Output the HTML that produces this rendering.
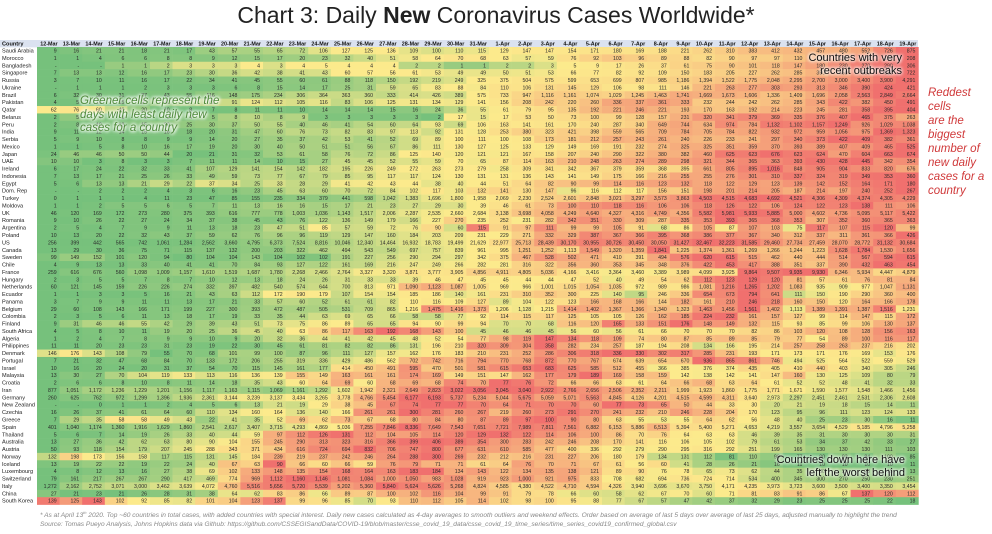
<!DOCTYPE html>
<html><head><meta charset="utf-8">
<style>
html,body{margin:0;padding:0;background:#fff;}
body{width:992px;height:534px;overflow:hidden;position:relative;font-family:"Liberation Sans",sans-serif;}
#title{position:absolute;left:0;top:2px;width:992px;text-align:center;font-size:23px;color:#222;}
.note{position:absolute;font-style:italic;}
svg{position:absolute;left:0;top:0;}
</style></head>
<body>
<div id="title">Chart 3: Daily <b>New</b> Coronavirus Cases Worldwide*</div>
<svg id="chart" width="992" height="534"></svg>
<div class="note" style="left:80px;top:95px;font-size:11.5px;line-height:13.5px;color:#4e8a3a;text-shadow:0 0 3px #fff,0 0 3px #fff,0 0 4px #fff,0 0 5px #fff;">Greener cells represent the<br>days with least daily new<br>cases for a country</div>
<div class="note" style="right:90px;top:52px;font-style:normal;font-size:11px;line-height:13px;color:#111;text-align:right;text-shadow:0 0 3px #fff,0 0 3px #fff,0 0 4px #fff;">Countries with very<br>recent outbreaks</div>
<div class="note" style="right:87px;top:454px;font-style:normal;font-size:11px;line-height:13px;color:#111;text-align:right;text-shadow:0 0 3px #fff,0 0 3px #fff,0 0 4px #fff;">Countries down here have<br>left the worst behind</div>
<div class="note" style="left:928px;top:86px;font-size:11.5px;line-height:14px;color:#d0393a;">Reddest cells<br>are the<br>biggest<br>number of<br>new daily<br>cases for a<br>country</div>
<div class="note" style="left:40px;top:508px;font-size:6.6px;line-height:9px;color:#888;white-space:nowrap;">* As at April 13<sup style="font-size:4px">th</sup> 2020. Top ~60 countries in total cases, with added countries with special interest. Daily new cases calculated as 4-day averages to smooth outliers and weekend effects. Order based on average of last 5 days over average of last 25 days, adjusted manually to highlight the trend<br>Source: Tomas Pueyo Analysis, Johns Hopkins data via Github: https://github.com/CSSEGISandData/COVID-19/blob/master/csse_covid_19_data/csse_covid_19_time_series/time_series_covid19_confirmed_global.csv</div>
<script>
const dates=["12-Mar","13-Mar","14-Mar","15-Mar","16-Mar","17-Mar","18-Mar","19-Mar","20-Mar","21-Mar","22-Mar","23-Mar","24-Mar","25-Mar","26-Mar","27-Mar","28-Mar","29-Mar","30-Mar","31-Mar","1-Apr","2-Apr","3-Apr","4-Apr","5-Apr","6-Apr","7-Apr","8-Apr","9-Apr","10-Apr","11-Apr","12-Apr","13-Apr","14-Apr","15-Apr","16-Apr","17-Apr","18-Apr","19-Apr"];
const countries=["Saudi Arabia","Morocco","Bangladesh","Singapore","Russia","Ukraine","Brazil","Pakistan","Qatar","Belarus","Peru","India","Serbia","Mexico","Japan","UAE","Ireland","Indonesia","Egypt","Dom. Rep","Turkey","Moldova","UK","Romania","Argentina","Poland","US","Canada","Sweden","Chile","France","Hungary","Netherlands","Ecuador","Panama","Belgium","Colombia","Finland","South Africa","Algeria","Philippines","Denmark","Portugal","Israel","Malaysia","Croatia","Iran","Germany","New Zealand","Czechia","Greece","Spain","Thailand","Australia","Austria","Norway","Iceland","Luxembourg","Switzerland","Italy","China","South Korea"];
const cases=[
[9,16,21,21,18,21,17,43,57,55,65,72,106,127,125,136,109,100,110,115,129,147,147,154,171,180,169,188,221,262,310,383,412,432,457,480,552,726,875],
[1,1,4,6,6,8,8,9,12,15,17,20,23,32,40,51,58,64,70,68,63,57,59,76,92,103,96,89,88,82,90,97,97,110,130,150,170,190,208],
[null,null,null,1,1,2,3,3,3,4,3,4,5,4,4,4,2,2,1,1,2,2,3,5,9,17,26,37,61,75,90,101,118,147,180,230,270,290,306],
[7,13,13,12,16,17,23,30,36,42,38,41,43,60,57,56,61,53,49,49,50,51,53,66,77,82,92,109,150,183,205,227,262,285,350,450,550,650,722],
[3,7,10,11,16,17,22,34,41,45,55,60,61,88,118,150,192,219,249,325,375,504,575,599,653,699,807,985,1186,1394,1522,1775,2048,2295,2700,3000,3400,3900,4291],
[null,1,1,1,2,3,3,3,6,8,15,14,17,25,31,59,65,83,88,84,110,106,131,145,129,106,98,111,146,221,263,277,303,293,313,346,390,424,421],
[6,32,30,31,37,43,55,116,148,175,234,306,364,363,360,333,414,426,389,575,733,947,1116,1161,1074,1029,1245,1463,1741,1669,1673,1606,1336,1409,1696,2058,2563,2849,2664],
[4,5,10,15,25,40,60,80,91,124,112,105,116,83,106,125,131,134,129,141,156,208,242,220,260,336,337,361,333,232,244,242,262,285,343,422,382,450,491],
[62,76,60,40,20,10,8,7,8,11,11,10,14,14,14,15,16,24,36,55,61,79,95,135,192,221,246,221,193,170,163,192,214,223,245,281,358,395,404],
[2,5,4,3,3,3,4,5,8,10,8,9,3,3,3,3,3,2,17,15,17,53,50,73,100,99,128,157,231,320,341,379,369,335,376,407,465,375,263],
[2,8,10,12,15,20,25,30,37,50,55,40,46,41,54,60,64,93,69,106,163,141,161,170,240,287,340,649,744,634,974,784,1132,1102,1157,1249,926,1029,1038],
[9,11,12,14,15,16,18,20,31,47,60,76,73,82,83,97,113,92,131,128,253,380,323,421,398,559,565,709,784,705,784,822,932,972,959,1056,975,1369,1323],
[5,9,10,8,8,9,9,14,20,27,35,37,42,53,41,52,69,89,100,111,100,108,173,181,212,257,243,261,240,226,233,241,297,340,373,422,409,382,361],
[1,1,5,8,10,16,17,19,20,30,40,50,51,51,56,67,86,111,130,127,125,133,129,149,169,191,232,274,325,325,351,359,370,393,389,407,409,465,525],
[24,46,46,50,50,44,20,21,31,32,53,61,58,76,72,86,125,140,120,121,121,167,158,207,240,290,322,380,382,460,625,623,676,623,624,470,604,663,674],
[10,10,3,8,3,3,7,11,11,14,10,15,27,45,45,52,55,59,70,65,87,114,163,210,248,263,274,289,298,321,344,365,363,393,430,428,445,342,354],
[6,17,24,22,32,33,41,107,129,141,154,142,182,195,226,249,272,263,273,279,258,309,341,342,367,379,359,368,395,661,805,895,1016,848,905,904,833,820,676],
[7,13,17,21,25,26,33,49,59,73,77,67,79,85,95,117,117,124,130,131,131,136,143,141,149,175,166,216,255,255,276,301,310,337,324,319,349,353,360],
[5,6,13,13,21,29,22,37,34,25,33,28,29,41,42,43,44,38,40,44,51,64,82,90,99,114,116,123,132,118,122,129,123,139,142,152,164,171,180],
[null,null,2,2,2,4,3,6,16,23,45,63,60,70,72,84,102,117,103,132,141,130,147,96,116,112,117,156,151,198,201,214,205,187,214,197,240,252,267],
[0,1,1,1,4,11,23,47,85,155,235,334,379,441,598,1042,1383,1696,1800,1958,2069,2230,2524,2601,2848,3021,3297,3573,3863,4503,4515,4683,4692,4521,4306,4309,4374,4305,4229],
[1,1,2,5,5,6,5,7,11,13,16,16,15,17,21,23,27,29,30,39,46,61,73,100,110,118,116,106,106,118,126,122,106,124,122,123,138,111,106],
[46,120,169,172,273,280,375,393,616,777,778,1003,1036,1143,1517,2006,2287,2535,2660,2684,3138,3698,4058,4249,4640,4327,4316,4749,4356,5582,5981,5933,5885,5000,4602,4736,5095,5117,5422],
[9,10,26,22,27,24,34,37,38,45,43,76,122,136,149,179,166,227,270,235,252,231,282,342,351,330,309,287,335,353,393,365,368,353,307,352,360,365,363],
[2,5,4,7,9,9,11,13,18,23,47,51,85,57,59,72,76,90,60,115,91,97,111,99,99,105,91,68,86,105,87,107,103,75,117,107,115,120,99],
[10,13,20,22,32,43,37,59,62,76,96,96,119,129,147,160,184,203,209,231,229,271,332,329,387,367,366,395,368,386,377,367,340,312,337,311,361,366,426],
[256,399,442,565,742,1061,1284,2562,3660,4795,6373,7524,8816,10046,12340,14464,16932,18783,19499,21629,22977,25713,28439,30170,30955,30726,30450,30050,31427,32467,32223,31585,29460,27734,27459,28070,28772,31132,30684],
[13,29,30,36,75,71,115,137,132,200,203,322,462,494,543,549,697,757,839,961,995,1251,1252,1113,1549,1320,1359,1841,1225,1374,1361,1269,1266,1244,1223,1628,1784,1530,1656],
[99,149,152,101,120,94,80,104,104,143,104,102,102,191,227,256,290,294,297,342,375,467,528,502,471,410,391,494,576,620,615,515,462,440,444,514,567,594,615],
[4,9,13,13,33,40,41,41,70,84,93,127,122,161,169,216,247,249,266,282,281,316,322,356,360,353,345,348,376,422,453,417,388,351,337,390,432,463,454],
[259,616,676,560,1098,1009,1157,1610,1519,1687,1780,2268,2466,2764,3327,3320,3871,3777,3905,4856,4911,4805,5036,4166,3416,3364,3460,3389,3989,4099,3925,9864,9507,9935,9930,6346,5934,4447,4879],
[2,3,5,5,7,8,7,10,12,13,18,24,26,31,33,33,39,46,47,45,45,44,44,47,52,40,49,54,62,112,123,129,120,81,57,61,76,81,84],
[60,121,145,159,226,226,274,332,397,482,540,574,644,700,813,971,1090,1123,1087,1005,969,966,1001,1015,1054,1035,972,989,986,1081,1216,1265,1202,1083,935,909,977,1047,1131],
[1,1,3,3,5,16,21,43,63,112,172,190,179,107,154,154,185,186,140,161,231,310,352,300,225,140,95,246,336,654,673,794,641,111,150,190,290,360,400],
[3,7,9,9,11,11,13,17,21,33,57,60,52,61,61,82,110,116,109,127,89,104,122,123,166,168,166,144,182,161,210,246,218,160,150,120,164,166,178],
[29,60,108,143,166,171,199,227,300,393,472,487,505,531,709,865,1216,1475,1416,1373,1206,1128,1215,1414,1402,1367,1366,1340,1323,1463,1456,1561,1402,1113,1389,1391,1387,1516,1231],
[2,3,5,6,11,13,18,17,19,33,35,44,63,69,65,66,58,58,77,92,114,115,117,125,105,105,126,162,185,224,232,161,157,127,99,114,147,115,172],
[9,31,46,46,55,42,29,39,43,51,73,75,86,89,65,65,94,90,99,94,70,70,68,116,120,165,133,151,176,148,149,132,115,93,85,99,106,130,137],
[4,5,8,10,11,19,20,25,36,45,40,63,86,117,163,192,168,143,100,45,46,46,45,56,60,56,61,66,70,70,70,82,86,103,120,108,128,156,163],
[1,2,4,7,8,9,9,10,9,20,32,36,44,41,42,45,48,52,54,77,98,119,147,134,118,109,74,80,87,85,89,85,79,77,54,89,100,116,117],
[11,11,20,23,23,31,23,19,22,30,45,61,81,82,82,86,131,196,210,320,309,304,358,282,234,257,187,194,208,134,166,195,214,257,258,263,237,216,202],
[146,176,143,108,79,55,70,68,101,99,100,87,96,111,127,157,162,176,183,210,231,252,286,306,318,336,330,302,317,285,231,193,171,173,171,176,169,153,176],
[7,21,32,47,68,84,70,133,172,206,255,319,336,429,486,562,702,742,716,794,770,768,872,770,767,674,639,654,670,936,865,861,746,494,525,564,522,559,529],
[10,16,20,24,20,31,37,54,70,115,145,161,177,414,450,491,595,470,501,581,615,653,683,625,585,512,455,366,385,376,374,435,405,410,440,403,340,305,246],
[13,30,27,70,104,119,133,113,116,136,139,155,149,163,161,161,174,169,149,151,147,162,177,179,189,169,158,159,142,138,142,141,147,160,130,125,109,80,79],
[2,6,6,8,10,8,11,14,18,35,43,60,64,69,60,68,69,68,74,70,77,76,72,66,66,63,61,64,66,68,63,64,61,52,52,48,41,32,33],
[877,1051,1172,1236,1229,1201,1156,1117,1163,1115,1069,1161,1292,1602,1942,2321,2649,2823,3022,3056,3045,3040,2922,2766,2656,2506,2352,2211,1999,1923,1860,1775,1771,1671,1590,1577,1548,1466,1456],
[260,625,762,972,1299,1396,1936,2361,3144,3239,3137,3434,3265,3778,4766,5454,6177,6193,5737,5234,5044,5675,5059,5071,5563,4845,4126,4201,4515,4599,4311,3640,2973,2297,2451,2461,2531,2306,2608],
[null,null,0,1,1,2,4,5,6,13,21,19,29,38,45,67,74,77,77,70,64,71,70,70,60,77,73,65,50,44,33,30,20,21,19,18,15,14,11],
[16,26,37,41,61,64,60,110,134,160,164,136,140,166,261,261,300,281,260,267,219,260,273,291,270,241,232,210,246,228,204,170,123,95,96,111,123,124,133],
[7,29,35,58,58,49,43,22,41,35,52,69,62,73,67,68,80,84,80,87,89,97,100,90,80,63,55,53,55,64,62,56,48,40,25,23,30,16,11],
[401,1040,1174,1360,1916,1629,1860,2541,2617,3407,3715,4293,4869,5036,7255,7846,8336,7649,7543,7651,7721,7989,7811,7561,6882,6153,5886,6513,5394,5400,5271,4653,4219,3557,3654,4529,5185,4796,5258],
[5,6,7,14,19,26,33,40,44,59,97,112,126,131,112,104,105,114,120,129,132,122,114,106,100,86,70,76,64,63,63,46,39,35,31,30,30,30,31],
[13,27,36,42,62,63,80,90,104,155,245,290,313,323,316,366,399,406,389,354,300,283,242,246,208,170,141,116,106,105,102,79,61,53,34,37,42,33,27],
[50,93,118,154,179,207,245,288,343,371,434,616,724,694,832,706,747,800,677,631,610,585,477,400,336,292,279,290,295,316,292,251,199,165,130,130,130,111,103],
[132,198,173,156,158,117,115,131,145,184,239,219,237,242,246,264,288,300,269,232,212,216,231,227,206,180,179,134,131,112,81,110,98,77,80,93,84,100,85],
[13,19,22,22,19,22,24,40,67,63,90,66,60,66,59,76,79,71,71,61,64,76,70,71,67,61,56,60,41,28,26,21,16,11,10,10,10,10,11],
[4,8,12,13,16,27,38,69,102,133,148,135,154,168,164,163,183,184,134,143,122,134,135,138,121,89,90,76,78,65,73,62,44,35,30,25,20,15,13],
[79,161,217,267,267,290,417,469,774,969,1112,1160,1146,1081,1084,1000,1050,983,1028,919,923,1000,921,975,833,708,682,694,736,724,714,534,400,345,300,270,250,230,251],
[1272,2162,2752,3071,3000,3462,3639,4072,4760,5516,5656,5720,5539,5202,5360,5840,5624,5626,5268,4824,4585,4380,4522,4710,4594,4326,3940,3696,3670,3750,4171,4235,3973,3723,3600,3500,3400,3350,3454],
[27,21,23,21,26,28,31,38,64,62,83,86,66,89,87,100,102,116,104,99,91,79,78,66,60,58,62,67,70,60,71,81,83,91,86,67,137,120,112],
[139,125,143,102,92,85,82,101,104,123,137,99,96,85,70,93,110,112,105,114,102,98,100,95,88,77,67,57,47,42,37,32,29,23,25,25,25,22,18]
];
const NS="http://www.w3.org/2000/svg";
const svg=document.getElementById('chart');
const X0=37,CW=22.6,Y0=47,RH=7.38,HY=40;
const xPos=i=>X0+i*CW;
const yPos=r=>Y0+r*RH;
const G=[118,193,124],Yl=[252,234,140],R=[240,112,110];
function mix(a,b,t){return 'rgb('+a.map((v,i)=>Math.round(v+(b[i]-v)*t)).join(',')+')';}
function colorFor(v,mn,md,mx){
  if(v<=md){return mix(G,Yl,md>mn?(v-mn)/(md-mn):0);}
  return mix(Yl,R,mx>md?(v-md)/(mx-md):0);
}
function fmt(v){return v===null?'-':v.toLocaleString('en-US');}
function add(tag,attrs){const e=document.createElementNS(NS,tag);for(const k in attrs)e.setAttribute(k,attrs[k]);svg.appendChild(e);return e;}
const hb=add('rect',{x:0,y:HY,width:918,height:RH,fill:'#dbe2f0'});


const ht=add('text',{x:2,y:HY+5.6,'font-size':5.6,'font-weight':'bold',fill:'#111','font-family':'Liberation Sans'});
ht.textContent='Country';


dates.forEach((d,i)=>{
  const t=add('text',{x:xPos(i)+CW-2,y:HY+5.6,'font-size':5.4,'font-weight':'bold','text-anchor':'end',fill:'#111','font-family':'Liberation Sans'});
  t.textContent=d;
  
  
});
countries.forEach((c,r)=>{
  const vals=cases[r];
  const nums=vals.map(v=>v===null?0:v);
  const sorted=nums.slice().sort((a,b)=>a-b);
  const mn=sorted[0],mx=sorted[sorted.length-1],md=sorted[Math.floor(sorted.length/2)];
  const lab=add('text',{x:2,y:yPos(r)+5.5,'font-size':5.6,fill:'#222','font-family':'Liberation Sans'});
  lab.textContent=c;
  
  
  vals.forEach((v,i)=>{
    const cell=add('rect',{x:xPos(i),y:yPos(r),width:CW+0.3,height:RH+0.3,fill:colorFor(v===null?0:v,mn,md,mx)});
    
    
    const t=add('text',{x:xPos(i)+CW-3,y:yPos(r)+5.5,'font-size':5.2,'text-anchor':'end',fill:'#2a2a2a','font-family':'Liberation Sans'});
    t.textContent=fmt(v);
    
    
  });
});
</script>
</body></html>
